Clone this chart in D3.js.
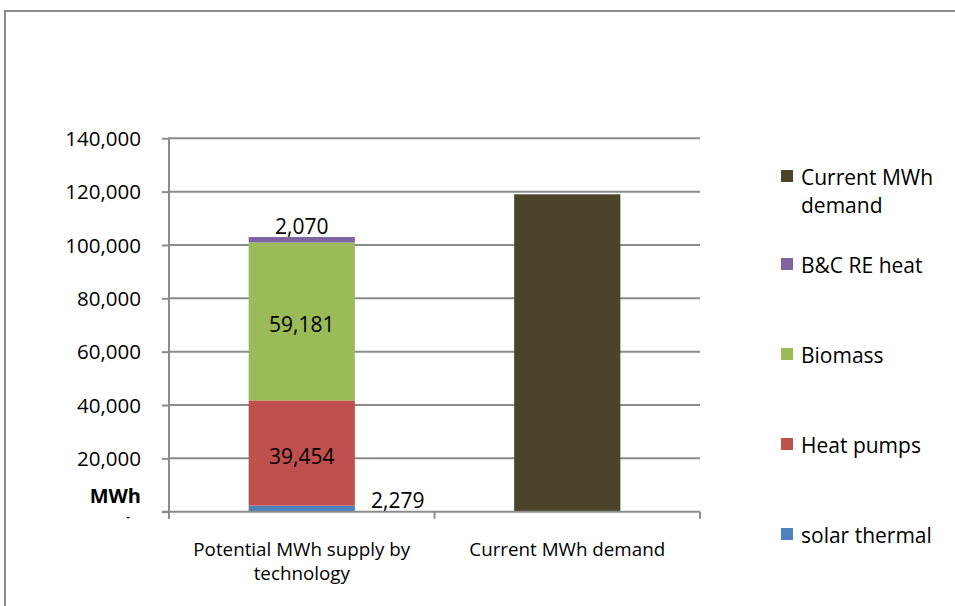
<!DOCTYPE html>
<html>
<head>
<meta charset="utf-8">
<script src="https://cdn.jsdelivr.net/npm/d3@7"></script>
<style>
  html, body { margin: 0; padding: 0; background: #fff; }
  svg { display: block; font-family: "Open Sans", Lato, sans-serif; }
</style>
</head>
<body>
<svg id="chart" width="955" height="606"></svg>
<script>
// Categories on the x axis
const categories = ["Potential MWh supply by technology", "Current MWh demand"];
const categoryLines = [["Potential MWh supply by", "technology"], ["Current MWh demand"]];

// Stacked series, bottom to top, one value per category
const seriesNames = ["solar thermal", "Heat pumps", "Biomass", "B&C RE heat", "Current MWh demand"];
const seriesColors = ["#4F81BD", "#C0504D", "#9BBB59", "#8064A2", "#4A452A"];
const solarThermal = [2279, 0];
const heatPumps = [39454, 0];
const biomass = [59181, 0];
const bcReHeat = [2070, 0];
const currentDemand = [0, 119000];

// Value axis ticks
const yTicks = [0, 20000, 40000, 60000, 80000, 100000, 120000, 140000];
const yTickLabels = ["-", "20,000", "40,000", "60,000", "80,000", "100,000", "120,000", "140,000"];

const seriesValues = [solarThermal, heatPumps, biomass, bcReHeat, currentDemand];
const table = categories.map((c, i) => {
  const row = { category: c };
  seriesNames.forEach((s, j) => { row[s] = seriesValues[j][i]; });
  return row;
});

const svg = d3.select("#chart");

// Outer chart frame (runs off the right and bottom edges)
svg.append("rect")
  .attr("x", 5).attr("y", 11)
  .attr("width", 1000).attr("height", 700)
  .attr("fill", "none").attr("stroke", "#8c8c8c").attr("stroke-width", 2);

const plot = { left: 169, right: 700, top: 138.3, bottom: 511.7 };

const x = d3.scaleBand().domain(categories).range([plot.left, plot.right]).paddingInner(0.6).paddingOuter(0.3);
const xOuter = d3.scaleBand().domain(categories).range([plot.left, plot.right]);
const y = d3.scaleLinear().domain([0, 140000]).range([plot.bottom, plot.top]);

// Gridlines
svg.append("g")
  .selectAll("line")
  .data(yTicks.slice(1))
  .join("line")
  .attr("x1", plot.left).attr("x2", plot.right)
  .attr("y1", d => y(d)).attr("y2", d => y(d))
  .attr("stroke", "#8c8c8c").attr("stroke-width", 2);

// Stacked bars
const stack = d3.stack().keys(seriesNames);
const layers = stack(table);
svg.append("g")
  .selectAll("g")
  .data(layers)
  .join("g")
  .attr("fill", (d, i) => seriesColors[i])
  .selectAll("rect")
  .data(d => d.filter(p => p[1] - p[0] > 0))
  .join("rect")
  .attr("x", d => x(d.data.category))
  .attr("width", x.bandwidth())
  .attr("y", d => y(d[1]))
  .attr("height", d => y(d[0]) - y(d[1]));

// Y axis
const yAxis = d3.axisLeft(y).tickValues(yTicks).tickSize(7).tickFormat((d, i) => yTickLabels[i]);
const yg = svg.append("g").attr("transform", `translate(${plot.left},0)`).call(yAxis);
yg.select(".domain").attr("stroke", "#8c8c8c").attr("stroke-width", 2).attr("d", `M0,${plot.top - 1}V${plot.bottom + 7}`);
yg.selectAll(".tick line").attr("stroke", "#8c8c8c").attr("stroke-width", 2);
yg.selectAll(".tick text")
  .attr("x", -28).attr("dy", "0.35em")
  .attr("font-size", 20.5).attr("fill", "#000")
  .attr("font-family", "'Open Sans', sans-serif");
// Zero is shown as an accounting-style dash
yg.selectAll(".tick").filter(d => d === 0).select("text")
  .attr("x", -41).attr("text-anchor", "middle")
  .attr("dy", "0.75em").attr("font-size", 11).attr("font-weight", "bold");

// Axis unit title
svg.append("text")
  .attr("x", 141).attr("y", 503)
  .attr("text-anchor", "end")
  .attr("font-size", 20).attr("font-weight", "bold")
  .text("MWh");

// X axis
const xAxisG = svg.append("g");
xAxisG.append("line")
  .attr("x1", plot.left - 7).attr("x2", plot.right)
  .attr("y1", plot.bottom).attr("y2", plot.bottom)
  .attr("stroke", "#8c8c8c").attr("stroke-width", 2);
const xTickPos = [plot.left, ...categories.map(c => xOuter(c) + xOuter.bandwidth())];
xAxisG.selectAll(".xt")
  .data(xTickPos)
  .join("line")
  .attr("x1", d => d).attr("x2", d => d)
  .attr("y1", plot.bottom).attr("y2", plot.bottom + 7)
  .attr("stroke", "#8c8c8c").attr("stroke-width", 2);
xAxisG.selectAll(".xl")
  .data(categories)
  .join("text")
  .attr("text-anchor", "middle")
  .attr("font-size", 18.8)
  .attr("x", d => x(d) + x.bandwidth() / 2)
  .attr("y", 556)
  .each(function(d, i) {
    d3.select(this).selectAll("tspan")
      .data(categoryLines[i])
      .join("tspan")
      .attr("x", x(d) + x.bandwidth() / 2)
      .attr("dy", (t, k) => k === 0 ? 0 : 24)
      .text(t => t);
  });

// Data labels for the supply stack
const fmt = d3.format(",");
const cat0 = categories[0];
const cx = x(cat0) + x.bandwidth() / 2;
const labels = [
  { v: solarThermal[0], base: 0, pos: "right" },
  { v: heatPumps[0], base: solarThermal[0], pos: "center" },
  { v: biomass[0], base: solarThermal[0] + heatPumps[0], pos: "center" },
  { v: bcReHeat[0], base: solarThermal[0] + heatPumps[0] + biomass[0], pos: "above" }
];
svg.append("g")
  .selectAll("text")
  .data(labels)
  .join("text")
  .attr("font-size", 21)
  .attr("text-anchor", "middle")
  .attr("x", d => d.pos === "right" ? x(cat0) + x.bandwidth() + 43 : cx)
  .attr("y", d => {
    if (d.pos === "above") return y(d.base + d.v) - 3;
    if (d.pos === "right") return y(d.base + d.v / 2) - 0.5;
    return y(d.base + d.v / 2) + 10.5;
  })
  .text(d => fmt(d.v));

// Legend, top entry is the last series
const legendOrder = seriesNames.slice().reverse();
const legendLines = { "Current MWh demand": ["Current MWh", "demand"] };
const lg = svg.append("g").attr("transform", "translate(781,170)");
const items = lg.selectAll("g")
  .data(legendOrder)
  .join("g")
  .attr("transform", (d, i) => `translate(0,${i * 90 - (i > 0 ? 2 : 0)})`);
items.append("rect")
  .attr("width", 12).attr("height", 12)
  .attr("fill", d => seriesColors[seriesNames.indexOf(d)]);
items.append("text")
  .attr("x", 20).attr("y", 15)
  .attr("font-size", 21)
  .each(function(d) {
    const lines = legendLines[d] || [d];
    d3.select(this).selectAll("tspan")
      .data(lines)
      .join("tspan")
      .attr("x", 20)
      .attr("dy", (t, k) => k === 0 ? 0 : 28)
      .text(t => t);
  });
</script>
</body>
</html>
